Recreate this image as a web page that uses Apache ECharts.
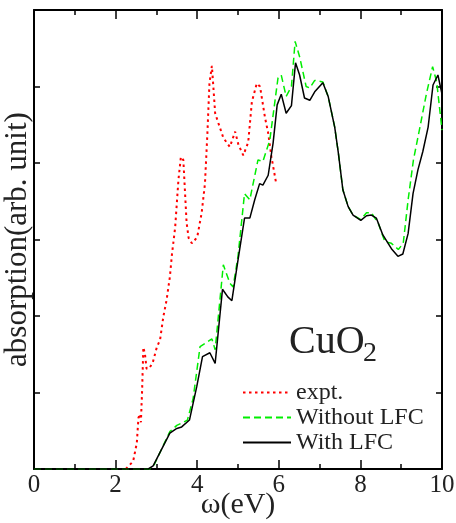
<!DOCTYPE html>
<html>
<head>
<meta charset="utf-8">
<script src="https://cdn.jsdelivr.net/npm/echarts@6/dist/echarts.min.js"></script>
<style>
html, body { margin: 0; padding: 0; background: #fff; }
#chart { width: 456px; height: 523px; }
</style>
</head>
<body>
<div id="chart"></div>
<script>
// absorption spectra of CuO2, [omega (eV), absorption (arb. unit)]
const seriesNames = ['expt.', 'Without LFC', 'With LFC']

const exptData = [
  [2.25, 0.0], [2.43, 0.10], [2.52, 0.34], [2.56, 0.67], [2.60, 0.72], [2.62, 0.61],
  [2.65, 1.03], [2.68, 1.59], [2.72, 1.50], [2.76, 1.31], [2.83, 1.32], [2.91, 1.39],
  [3.01, 1.59], [3.09, 1.69], [3.17, 1.99], [3.25, 2.21], [3.33, 2.51], [3.38, 2.80],
  [3.46, 3.16], [3.54, 3.78], [3.60, 4.08], [3.66, 4.04], [3.74, 3.22], [3.79, 3.02],
  [3.87, 2.95], [4.00, 3.03], [4.11, 3.35], [4.19, 3.73], [4.25, 4.39], [4.30, 5.04],
  [4.36, 5.27], [4.39, 5.04], [4.44, 4.65], [4.52, 4.52], [4.64, 4.33], [4.80, 4.21],
  [4.93, 4.41], [5.01, 4.24], [5.13, 4.10], [5.25, 4.27], [5.34, 4.80], [5.46, 5.04],
  [5.54, 5.00], [5.66, 4.60], [5.74, 4.39], [5.82, 4.08], [5.93, 3.75]
]

const withoutLfcData = [
  [0, 0], [2.84, 0], [2.95, 0.06], [3.33, 0.49], [3.50, 0.57], [3.62, 0.60], [3.76, 0.64],
  [3.90, 0.92], [4.07, 1.60], [4.36, 1.70], [4.44, 1.56], [4.64, 2.67], [4.80, 2.43],
  [4.88, 2.38], [5.00, 2.78], [5.16, 3.60], [5.29, 3.52], [5.49, 4.04], [5.61, 4.02],
  [5.78, 4.30], [5.98, 5.11], [6.06, 5.15], [6.18, 4.87], [6.31, 5.00], [6.40, 5.59],
  [6.51, 5.39], [6.67, 5.00], [6.76, 4.98], [6.88, 5.08], [7.08, 5.06], [7.21, 4.87],
  [7.37, 4.47], [7.46, 4.13], [7.57, 3.65], [7.70, 3.43], [7.82, 3.32], [8.01, 3.26],
  [8.15, 3.35], [8.27, 3.35], [8.44, 3.21], [8.60, 2.97], [8.76, 2.95], [8.93, 2.87],
  [9.05, 2.95], [9.17, 3.52], [9.30, 4.04], [9.46, 4.47], [9.62, 4.91], [9.77, 5.26],
  [9.87, 5.06], [10.0, 4.43]
]

const withLfcData = [
  [0, 0], [2.80, 0], [2.92, 0.04], [3.33, 0.47], [3.50, 0.53], [3.62, 0.55], [3.81, 0.64],
  [3.99, 1.08], [4.13, 1.47], [4.31, 1.52], [4.44, 1.38], [4.62, 2.35], [4.75, 2.25],
  [4.85, 2.20], [5.00, 2.73], [5.16, 3.28], [5.29, 3.28], [5.41, 3.52], [5.53, 3.73],
  [5.61, 3.71], [5.74, 3.84], [5.86, 4.26], [5.96, 4.76], [6.06, 4.90], [6.18, 4.65],
  [6.31, 4.75], [6.41, 5.31], [6.51, 5.15], [6.63, 4.85], [6.76, 4.82], [6.88, 4.93],
  [7.08, 5.05], [7.21, 4.87], [7.37, 4.47], [7.46, 4.13], [7.57, 3.65], [7.70, 3.43],
  [7.82, 3.32], [8.01, 3.25], [8.15, 3.31], [8.27, 3.32], [8.39, 3.28], [8.55, 3.06],
  [8.76, 2.88], [8.92, 2.78], [9.04, 2.81], [9.17, 3.08], [9.29, 3.60], [9.41, 3.91],
  [9.53, 4.15], [9.66, 4.47], [9.78, 5.02], [9.90, 5.15], [10.0, 4.90]
]

const serif = "'Liberation Serif', 'DejaVu Serif', serif"
const textColor = '#222'

const chart = echarts.init(document.getElementById('chart'))

// box axes: bottom/left carry labels, top/right only ticks
const xAxisBase = (pos, labels) => ({
  type: 'value',
  position: pos,
  min: 0,
  max: 10,
  interval: 2,
  axisLine: { onZero: false, lineStyle: { color: '#000', width: 2 } },
  axisTick: { inside: true, length: 9, lineStyle: { color: '#000', width: 1.5 } },
  minorTick: { show: true, splitNumber: 2, length: 5, lineStyle: { color: '#000', width: 1.5 } },
  splitLine: { show: false },
  axisLabel: { show: labels, margin: 4, fontSize: 25, fontFamily: serif, color: textColor }
})

const yAxisBase = (pos) => ({
  type: 'value',
  position: pos,
  min: 0,
  max: 6,
  interval: 1,
  axisLine: { onZero: false, lineStyle: { color: '#000', width: 2 } },
  axisTick: { inside: true, length: 6, lineStyle: { color: '#000', width: 1.5 } },
  splitLine: { show: false },
  axisLabel: { show: false }
})

const lineSeries = (name, data, color, width, type) => ({
  name,
  type: 'line',
  data,
  symbol: 'none',
  showSymbol: false,
  itemStyle: { color },
  lineStyle: { color, width, type },
  animation: false
})

const option = {
  backgroundColor: '#fff',
  animation: false,
  grid: { left: 34, right: 14, top: 10, bottom: 54, containLabel: false, outerBoundsMode: 'none' },
  xAxis: [
    Object.assign(xAxisBase('bottom', true), {
      name: 'ω(eV)',
      nameLocation: 'middle',
      nameGap: 21,
      nameMoveOverlap: false,
      nameTextStyle: { fontSize: 30, fontFamily: serif, color: textColor }
    }),
    xAxisBase('top', false)
  ],
  yAxis: [
    Object.assign(yAxisBase('left'), {
      name: 'absorption(arb. unit)',
      nameLocation: 'middle',
      nameGap: 1,
      nameMoveOverlap: false,
      nameTextStyle: { fontSize: 31, fontFamily: serif, color: textColor }
    }),
    yAxisBase('right')
  ],
  legend: {
    data: seriesNames,
    orient: 'vertical',
    left: 242,
    top: 380,
    padding: 0,
    itemGap: 0,
    itemWidth: 48,
    itemHeight: 14,
    selectedMode: false,
    itemStyle: { opacity: 0 },
    textStyle: { fontSize: 24, lineHeight: 25, fontFamily: serif, color: textColor }
  },
  graphic: [
    { type: 'text', left: 289, top: 322, style: { text: 'CuO', font: '40px ' + serif, fill: textColor } },
    { type: 'text', left: 363, top: 340, style: { text: '2', font: '28px ' + serif, fill: textColor } }
  ],
  series: [
    lineSeries(seriesNames[0], exptData, '#ff0000', 2, [2.5, 3.5]),
    lineSeries(seriesNames[1], withoutLfcData, '#00ee00', 1.5, [7, 4]),
    lineSeries(seriesNames[2], withLfcData, '#000000', 1.5, 'solid')
  ]
}

chart.setOption(option)
</script>
</body>
</html>
